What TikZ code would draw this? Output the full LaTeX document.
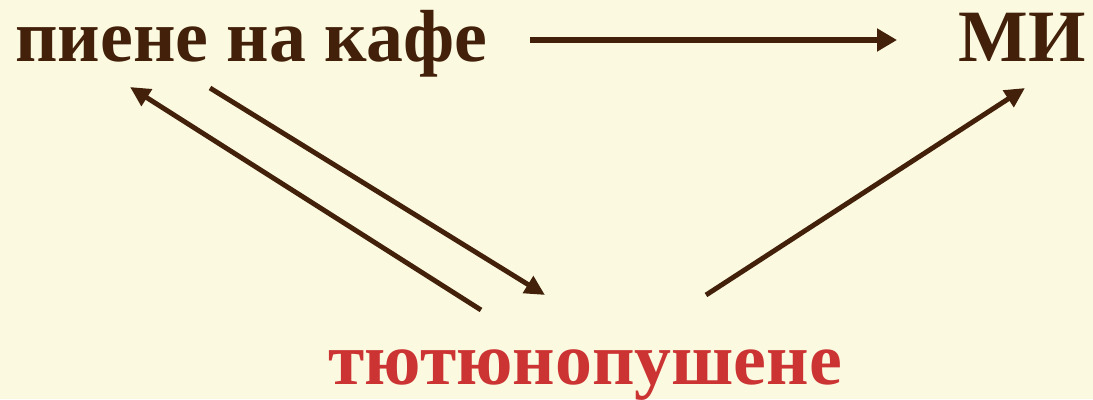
\documentclass[tikz,border=0pt]{standalone}
\usepackage{fontspec}
\setmainfont{Liberation Serif}
\usetikzlibrary{arrows.meta}
\definecolor{paper}{HTML}{FBFAE1}
\definecolor{ink}{HTML}{42200A}
\definecolor{smoke}{HTML}{CC3333}

\begin{document}
\begin{tikzpicture}[x=0.2mm,y=-0.2mm]
  \tikzset{word/.style={inner sep=0pt,anchor=base west,text=ink,
                        font=\fontsize{42}{50}\selectfont\bfseries},
           link/.style={-{Triangle[length=4mm,width=3.8mm]},draw=ink,line width=2.8pt}}
  \fill[paper] (0,0) rectangle (1093,399);
  \useasboundingbox (0,0) rectangle (1093,399);
  \node[word] (coffee) at (15,62) {пиене на кафе};
  \node[word] (mi) at (958,62) {МИ};
  \node[word,text=smoke] (smoking) at (328,384) {тютюнопушене};
  % arrow end points
  \coordinate (h1) at (530,40);
  \coordinate (h2) at (897,40);
  \coordinate (c1) at (481,310);
  \coordinate (c2) at (130,87);
  \coordinate (c3) at (210,88);
  \coordinate (c4) at (545,295);
  \coordinate (c5) at (706,295);
  \coordinate (c6) at (1025,88);
  \draw[link,line width=3.6pt,-{Triangle[length=4mm,width=4.4mm]}] (h1) -- (h2);
  \draw[link] (c1) -- (c2);
  \draw[link] (c3) -- (c4);
  \draw[link] (c5) -- (c6);
\end{tikzpicture}
\end{document}
